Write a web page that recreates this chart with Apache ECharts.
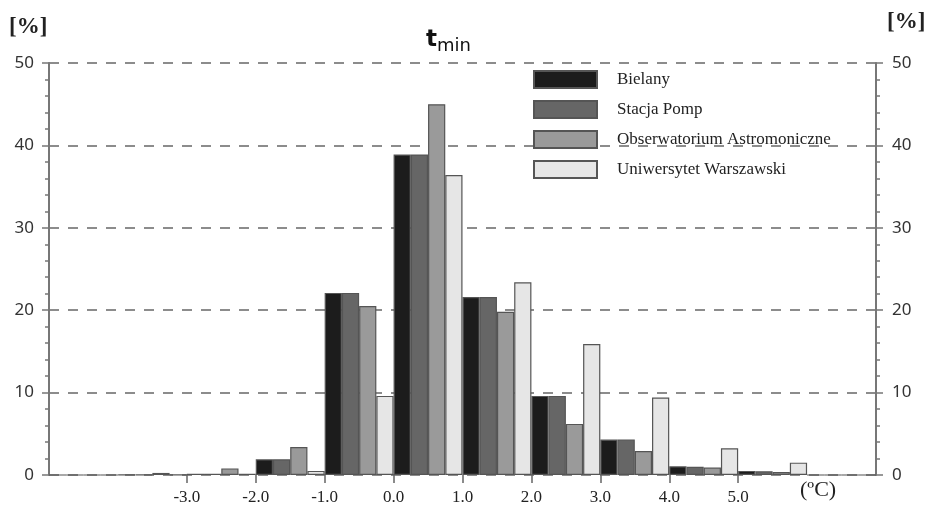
<!DOCTYPE html>
<html>
<head>
<meta charset="utf-8">
<script src="https://cdn.jsdelivr.net/npm/echarts@6/dist/echarts.min.js"></script>
<style>html,body{margin:0;padding:0;background:#fff}#c{width:929px;height:514px}</style>
</head>
<body>
<div id="c"></div>
<script>
// bins: lower edge of each 1-degree class
const categories = ['-5', '-4', '-3', '-2', '-1', '0', '1', '2', '3', '4', '5', '6'];
const seriesNames = ['Bielany', 'Stacja Pomp', 'Obserwatorium Astromoniczne', 'Uniwersytet Warszawski'];
const bielany = [0, 0.05, 0.15, 1.9, 22.1, 38.9, 21.6, 9.6, 4.3, 1.05, 0.5, 0];
const stacjaPomp = [0, 0.05, 0.15, 1.9, 22.1, 38.9, 21.6, 9.6, 4.3, 1.0, 0.45, 0];
const obserwatorium = [0, 0.25, 0.8, 3.4, 20.5, 45.0, 19.8, 6.2, 2.9, 0.9, 0.35, 0];
const uniwersytet = [0, 0.05, 0.15, 0.5, 9.6, 36.4, 23.4, 15.9, 9.4, 3.25, 1.5, 0];
const xTickValues = [-3, -2, -1, 0, 1, 2, 3, 4, 5];
const yTicks = [0, 10, 20, 30, 40, 50];

const colors = ['#1c1c1c', '#666666', '#9a9a9a', '#e6e6e6'];
const seriesData = [bielany, stacjaPomp, obserwatorium, uniwersytet];

const chart = echarts.init(document.getElementById('c'), null, {renderer: 'canvas'});
const sansFont = 'Noto Sans';
const serifFont = 'Liberation Serif';

const yAxisCommon = {
  type: 'value', min: yTicks[0], max: yTicks[yTicks.length - 1], interval: 10,
  axisLine: {show: true, onZero: false, lineStyle: {color: '#777', width: 2}},
  axisTick: {show: true, length: 7, lineStyle: {color: '#777', width: 1.5}},
  minorTick: {show: true, splitNumber: 5, length: 4, lineStyle: {color: '#777', width: 1.5}},
  axisLabel: {fontFamily: sansFont, fontSize: 17, color: '#333'}
};

chart.setOption({
  animation: false,
  backgroundColor: '#fff',
  grid: {left: 49, right: 53, top: 63, bottom: 39, containLabel: false},
  legend: {
    orient: 'vertical', left: 528, top: 65,
    itemWidth: 63, itemHeight: 17, itemGap: 11,
    icon: 'rect',
    textStyle: {fontFamily: serifFont, fontSize: 17, color: '#222', padding: [0, 0, 0, 15]},
    data: seriesNames
  },
  xAxis: [
    {type: 'category', data: categories, position: 'top', show: false, boundaryGap: true},
    {
      type: 'value', position: 'bottom', min: -5, max: 7, interval: 1,
      axisLine: {show: false, onZero: false},
      splitLine: {show: false},
      axisTick: {show: true, length: 8, customValues: xTickValues, lineStyle: {color: '#666', width: 1.5}},
      axisLabel: {
        customValues: xTickValues, margin: 14,
        fontFamily: serifFont, fontSize: 17, color: '#222',
        formatter: v => v.toFixed(1)
      }
    }
  ],
  yAxis: [
    Object.assign({}, yAxisCommon, {
      position: 'left',
      axisLabel: Object.assign({}, yAxisCommon.axisLabel, {margin: 15}),
      splitLine: {show: true, lineStyle: {color: '#8c8c8c', width: 2, type: [10, 9]}}
    }),
    Object.assign({}, yAxisCommon, {
      position: 'right',
      axisLabel: Object.assign({}, yAxisCommon.axisLabel, {margin: 16}),
      splitLine: {show: false}
    })
  ],
  series: seriesNames.map((name, i) => ({
    name: name, type: 'bar', xAxisIndex: 0, yAxisIndex: 0,
    data: seriesData[i],
    barGap: '0%', barCategoryGap: '0%',
    itemStyle: {color: colors[i], borderColor: '#555', borderWidth: 1.2}
  })),
  graphic: [
    {type: 'text', left: 9, top: 16, style: {text: '[%]', font: 'bold 23px "Liberation Serif"', fill: '#222'}},
    {type: 'text', left: 887, top: 11, style: {text: '[%]', font: 'bold 23px "Liberation Serif"', fill: '#222'}},
    {type: 'text', left: 800, top: 479, style: {text: '(ºC)', font: '22px "Liberation Serif"', fill: '#222'}},
    {type: 'text', left: 426, top: 29, style: {
      text: '{a|t}{b|min}',
      rich: {
        a: {fontFamily: 'DejaVu Sans', fontWeight: 'bold', fontSize: 23, fill: '#111', verticalAlign: 'bottom', height: 28},
        b: {fontFamily: 'DejaVu Sans', fontSize: 18, fill: '#111', verticalAlign: 'bottom', height: 28, padding: [0, 0, -6, 0]}
      }
    }}
  ]
});
</script>
</body>
</html>
